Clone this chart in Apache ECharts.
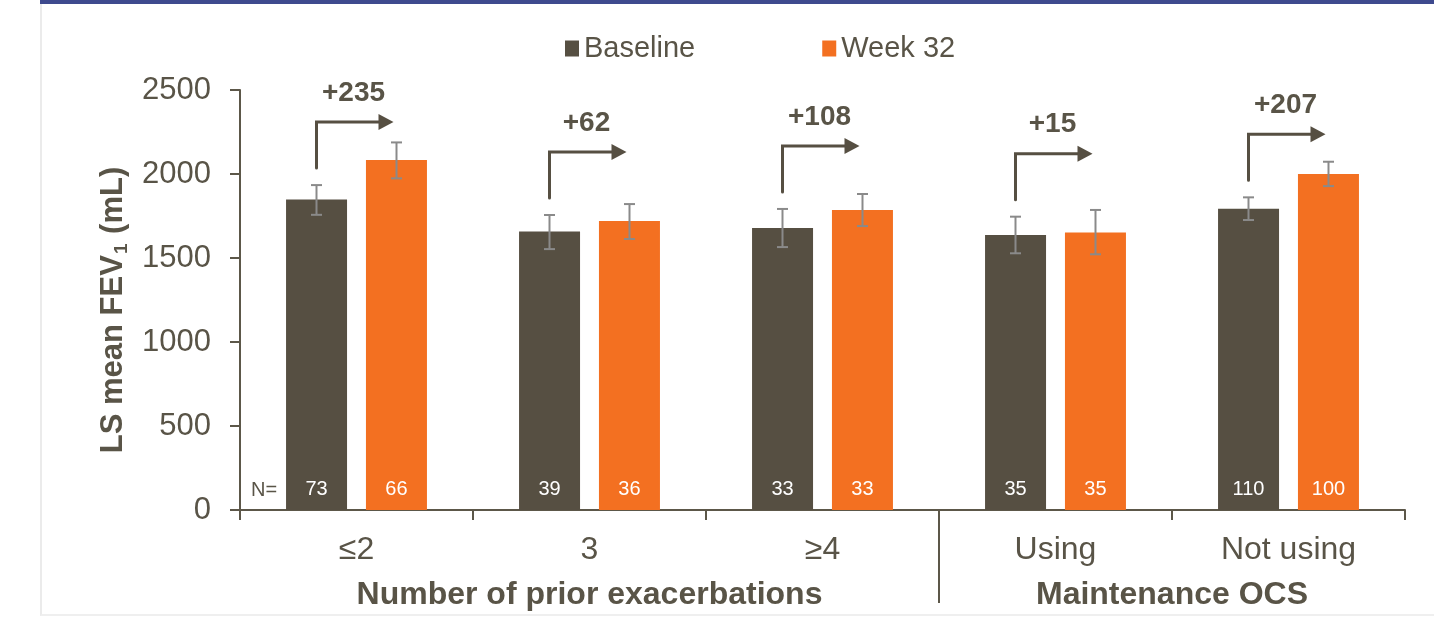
<!DOCTYPE html>
<html>
<head>
<meta charset="utf-8">
<script src="https://cdn.jsdelivr.net/npm/echarts/dist/echarts.min.js"></script>
<style>
  html, body { margin: 0; padding: 0; background: #ffffff; }
  #frame { position: absolute; left: 40px; top: 0; width: 1394px; height: 616px;
           border-left: 2px solid #ebebeb; border-bottom: 2px solid #efefef; box-sizing: border-box; }
  #band { position: absolute; left: 40px; top: 0; width: 1394px; height: 4px; background: #3e4a8e; }
  #chart { position: absolute; left: 0; top: 0; width: 1434px; height: 618px; }
</style>
</head>
<body>
<div id="frame"></div>
<div id="band"></div>
<div id="chart"></div>
<script>
// Subgroups on the category axis
const categories = ['≤2', '3', '≥4', 'Using', 'Not using'];

// LS mean FEV1 (mL)
const baseline = [1848, 1658, 1678, 1637, 1793];
const week32 = [2083, 1720, 1786, 1652, 2000];

// Error bar ranges [low, high] (mL)
const baselineErr = [[1757, 1934], [1553, 1756], [1565, 1792], [1528, 1746], [1726, 1861]];
const week32Err = [[1974, 2188], [1613, 1821], [1690, 1881], [1522, 1786], [1928, 2073]];

// Patients per bar
const nBaseline = [73, 39, 33, 35, 110];
const nWeek32 = [66, 36, 33, 35, 100];

// Change from baseline to week 32 (mL)
const changes = ['+235', '+62', '+108', '+15', '+207'];

// Grouping of categories beneath the axis
const groupNames = ['Number of prior exacerbations', 'Maintenance OCS'];
const groupFrom = [0, 3];
const groupTo = [2, 4];

// Y axis ticks
const yMin = 0, yMax = 2500, yStep = 500;

const TEXT = '#595447';
const AXIS = '#5c5749';
const DARK = '#564f42';
const ORANGE = '#f37021';
const ERR = '#8a8a8a';
const FONT = '"Liberation Sans", Arial, sans-serif';
const BAR_W = 61;
const BAR_OFF = 40;

const chart = echarts.init(document.getElementById('chart'), null, { renderer: 'canvas' });

function errorRenderer(offset) {
  return function (params, api) {
    const lo = api.coord([api.value(0), api.value(1)]);
    const hi = api.coord([api.value(0), api.value(2)]);
    const x = lo[0] + offset;
    const style = { stroke: ERR, lineWidth: 2 };
    return {
      type: 'group',
      children: [
        { type: 'line', shape: { x1: x, y1: lo[1], x2: x, y2: hi[1] }, style },
        { type: 'line', shape: { x1: x - 5.5, y1: lo[1], x2: x + 5.5, y2: lo[1] }, style },
        { type: 'line', shape: { x1: x - 5.5, y1: hi[1], x2: x + 5.5, y2: hi[1] }, style }
      ]
    };
  };
}

function arrowRenderer(params, api) {
  const p = api.coord([api.value(0), api.value(1)]);
  const x0 = p[0] - BAR_OFF;
  const yBottom = p[1] - 17;
  const yTop = yBottom - 46;
  const xTip = p[0] + 37;
  return {
    type: 'group',
    children: [
      { type: 'polyline', shape: { points: [[x0, yBottom], [x0, yTop], [xTip - 14, yTop]] },
        style: { stroke: DARK, lineWidth: 3, fill: null, lineCap: 'round' } },
      { type: 'polygon', shape: { points: [[xTip - 15, yTop - 8], [xTip, yTop], [xTip - 15, yTop + 8]] },
        style: { fill: DARK } },
      { type: 'text', x: p[0] - 3, y: yTop - 29,
        style: { text: changes[params.dataIndex], fill: TEXT, font: 'bold 28px ' + FONT,
                 align: 'center', verticalAlign: 'middle' } }
    ]
  };
}

chart.setOption({
  animation: false,
  textStyle: { fontFamily: FONT },
  legend: {
    data: ['Baseline', 'Week 32'],
    left: 560, top: 29,
    icon: 'rect', itemWidth: 14, itemHeight: 16, itemGap: 127,
    textStyle: { fontSize: 29, color: TEXT, fontFamily: FONT }
  },
  grid: { left: 240, right: 29, top: 90, bottom: 108 },
  xAxis: {
    type: 'category',
    data: categories,
    axisLine: { lineStyle: { color: AXIS, width: 2 } },
    axisTick: { show: true, length: 10, interval: 0, lineStyle: { color: AXIS, width: 2 } },
    axisLabel: { fontSize: 32, color: TEXT, margin: 24, interval: 0 }
  },
  yAxis: {
    type: 'value',
    min: yMin, max: yMax, interval: yStep,
    splitLine: { show: false },
    axisLine: { show: true, lineStyle: { color: AXIS, width: 2 } },
    axisTick: { show: true, length: 10, lineStyle: { color: AXIS, width: 2 } },
    axisLabel: { fontSize: 31, color: TEXT, margin: 29, formatter: v => String(v) },
    name: '{a|LS mean FEV}{s|1}{a| (mL)}',
    nameLocation: 'middle',
    nameRotate: 90,
    nameGap: 104,
    nameTextStyle: {
      padding: [0, 20, 0, 0],
      rich: {
        a: { fontSize: 31, fontWeight: 'bold', color: TEXT, fontFamily: FONT, lineHeight: 36 },
        s: { fontSize: 19, fontWeight: 'bold', color: TEXT, fontFamily: FONT, lineHeight: 36,
             verticalAlign: 'bottom', padding: [13, 1, 0, 1] }
      }
    }
  },
  series: [
    {
      name: 'Baseline', type: 'bar', data: baseline, barWidth: BAR_W, barGap: '31%',
      itemStyle: { color: DARK },
      label: { show: true, position: 'insideBottom', distance: 11, fontSize: 20, color: '#ffffff',
               formatter: p => String(nBaseline[p.dataIndex]) }
    },
    {
      name: 'Week 32', type: 'bar', data: week32, barWidth: BAR_W,
      itemStyle: { color: ORANGE },
      label: { show: true, position: 'insideBottom', distance: 11, fontSize: 20, color: '#ffffff',
               formatter: p => String(nWeek32[p.dataIndex]) }
    },
    {
      type: 'custom', renderItem: errorRenderer(-BAR_OFF), z: 5, silent: true,
      data: baselineErr.map((e, i) => [i, e[0], e[1]])
    },
    {
      type: 'custom', renderItem: errorRenderer(BAR_OFF), z: 5, silent: true,
      data: week32Err.map((e, i) => [i, e[0], e[1]])
    },
    {
      type: 'custom', renderItem: arrowRenderer, z: 6, silent: true,
      data: baselineErr.map((e, i) => [i, e[1]])
    }
  ]
});

// Group captions, divider between groups and the "N=" tag
const c0 = chart.convertToPixel({ xAxisIndex: 0 }, 0);
const c1 = chart.convertToPixel({ xAxisIndex: 0 }, 1);
const step = c1 - c0;
const axisY = chart.convertToPixel({ yAxisIndex: 0 }, 0);
const graphics = [];
groupNames.forEach((name, g) => {
  const left = chart.convertToPixel({ xAxisIndex: 0 }, groupFrom[g]) - step / 2;
  const right = chart.convertToPixel({ xAxisIndex: 0 }, groupTo[g]) + step / 2;
  graphics.push({
    type: 'text', x: (left + right) / 2, y: axisY + 85,
    style: { text: name, font: 'bold 32px ' + FONT, fill: TEXT, align: 'center', verticalAlign: 'middle' }
  });
  if (g > 0) {
    graphics.push({
      type: 'line', shape: { x1: left, y1: axisY, x2: left, y2: axisY + 93 },
      style: { stroke: AXIS, lineWidth: 2 }
    });
  }
});
graphics.push({
  type: 'text', x: c0 - step / 2 + 24, y: axisY - 20,
  style: { text: 'N=', font: '20px ' + FONT, fill: TEXT, align: 'center', verticalAlign: 'middle' }
});
chart.setOption({ graphic: graphics });
</script>
</body>
</html>
